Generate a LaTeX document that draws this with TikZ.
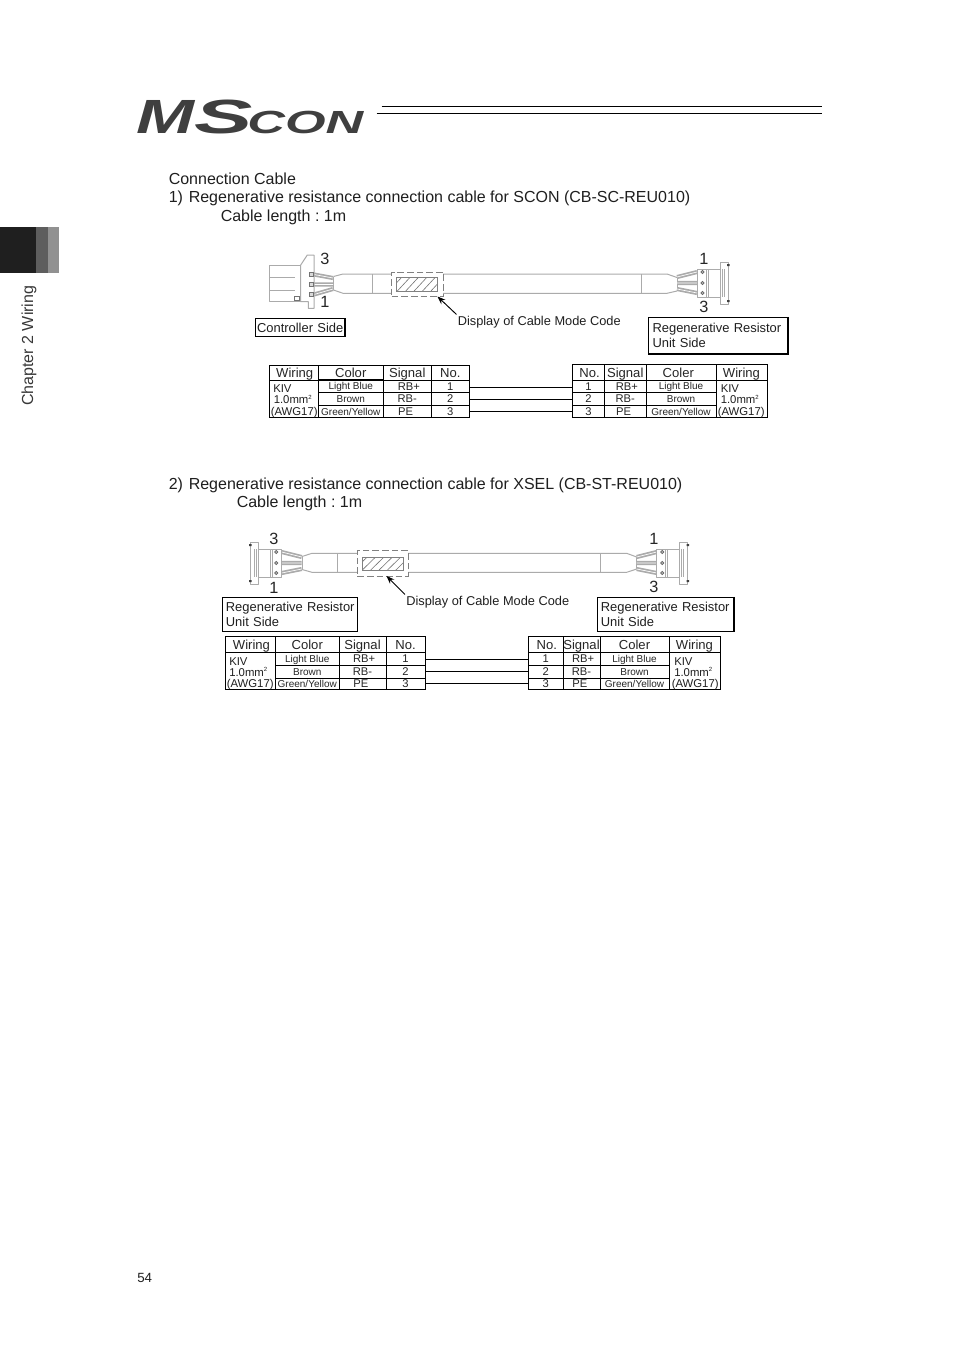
\documentclass[tikz,border=0pt]{standalone}
\usepackage{fontspec}
\setmainfont{Liberation Sans}
\usetikzlibrary{arrows.meta}
\definecolor{cablec}{HTML}{ABABAB}
\definecolor{logoc}{HTML}{3F3F3F}
\newcommand\fs[1]{\fontsize{#1pt}{#1pt}\selectfont}
\frenchspacing
\tikzset{
  x=0.75pt,y=-0.75pt,
  txt/.style={anchor=base west,inner sep=0pt,text=black!88},
  body/.style={txt,font=\fs{12}\frenchspacing},
  pinno/.style={inner sep=0pt,font=\fs{12.2},text=black!85},
  small/.style={txt,font=\fs{9.6}},
  cell/.style={draw=black,line width=0.6pt,inner sep=0pt,text=black!85,text height=0.72em,text depth=0pt},
  hdr/.style={font=\fs{9.8}},
  sig/.style={font=\fs{8.4},text depth=1.2pt},
  col/.style={font=\fs{7.5},text depth=1.5pt},
  colt/.style={font=\fs{7.5},text depth=2.2pt},
  wir/.style={txt,font=\fs{8.5}},
  lab/.style={draw=black,line width=0.8pt,align=left,inner ysep=0pt,font=\fontsize{9.7pt}{11.25pt}\selectfont,text=black!88},
  wireline/.style={draw=black,line width=0.6pt},
  cab/.style={draw=cablec,line width=0.75pt,line join=round},
  strand/.style={draw=cablec,line width=1.3pt,double=white,double distance=0.5pt},
  modeb/.style={draw=black!50,line width=0.6pt,dash pattern=on 5pt off 2.2pt},
  pics/rconn/.style={code={
    \draw[strand] (0,-11) -- (-20,-6) (0,0) -- (-20,0) (0,10) -- (-20,6);
    \draw[cab,fill=white] (0,-14) rectangle (11,14);
    \draw[cab,fill=white] (11,-14) rectangle (23,14);
    \draw[cab] (9,-14) -- (9,14);
    \draw[cab,fill=white] (23,-21) rectangle (31,21);
    \draw[cab] (25,-14) -- (25,14) (27,-14) -- (27,14);
    \foreach \yy in {-11,0,10}{\draw[black!60,line width=0.5pt,fill=black!25] (5.5,\yy) circle (1.6);}
    \fill[black!75] (30,-19) rectangle (32.5,-17) (30,17) rectangle (32.5,19);
  }},
}
\newcommand\tcell[7]{%
  \pgfmathsetlengthmacro\cw{(#4-#2)*0.75}%
  \pgfmathsetlengthmacro\ch{(#5-#3)*0.75}%
  \node[cell,minimum width=\cw,minimum height=\ch,#6] (#1) at ({(#2+#4)/2},{(#3+#5)/2}) {#7};}
% name, inner margin, x1, y1, x2, y2, text
\newcommand\boxlab[7]{%
  \pgfmathsetlengthmacro\cw{(#5-#3)*0.75}%
  \pgfmathsetlengthmacro\ch{(#6-#4)*0.75}%
  \node[lab,inner xsep=#2,minimum width=\cw,minimum height=\ch,text width=\cw-2*#2] (#1) at ({(#3+#5)/2},{(#4+#6)/2}) {#7};}
\newcommand\setcols[5]{\def\xa{#1}\def\xb{#2}\def\xc{#3}\def\xd{#4}\def\xe{#5}}
\newcommand\setrows[5]{\def\ya{#1}\def\yb{#2}\def\yc{#3}\def\yd{#4}\def\ye{#5}}
\newcommand\sq{\raisebox{0.75ex}{\fs{4.5}2}}
\newcommand\wirtxt[4]{%
  \node[wir] (#1k) at (#2,\yb+12.5) {KIV};
  \node[wir] (#1m) at (#3,\yb+23.5) {1.0mm\sq};
  \node[wir] (#1a) at (#4,\yb+35) {(AWG17)};}
\newcommand\leftab[1]{%
  \tcell{#1hw}{\xa}{\ya}{\xb}{\yb}{hdr}{\hspace*{1.5pt}Wiring}
  \tcell{#1hc}{\xb}{\ya}{\xc}{\yb}{hdr}{Color}
  \tcell{#1hs}{\xc}{\ya}{\xd}{\yb}{hdr}{Signal}
  \tcell{#1hn}{\xd}{\ya}{\xe}{\yb}{hdr}{No.}
  \tcell{#1w}{\xa}{\yb}{\xb}{\ye}{}{}
  \tcell{#1ca}{\xb}{\yb}{\xc}{\yc}{colt}{Light Blue}
  \tcell{#1cb}{\xb}{\yc}{\xc}{\yd}{col}{Brown}
  \tcell{#1cc}{\xb}{\yd}{\xc}{\ye}{col}{Green/Yellow}
  \tcell{#1sa}{\xc}{\yb}{\xd}{\yc}{sig}{\hspace*{2.5pt}RB+}
  \tcell{#1sb}{\xc}{\yc}{\xd}{\yd}{sig}{RB-}
  \tcell{#1sc}{\xc}{\yd}{\xd}{\ye}{sig}{PE\hspace*{2.5pt}}
  \tcell{#1na}{\xd}{\yb}{\xe}{\yc}{sig}{1}
  \tcell{#1nb}{\xd}{\yc}{\xe}{\yd}{sig}{2}
  \tcell{#1nc}{\xd}{\yd}{\xe}{\ye}{sig}{3}}
\newcommand\rightab[2]{%
  \tcell{#1hn}{\xa}{\ya}{\xb}{\yb}{hdr}{\hspace*{1.5pt}No.}
  \tcell{#1hs}{\xb}{\ya}{\xc}{\yb}{hdr}{Signal}
  \tcell{#1hc}{\xc}{\ya}{\xd}{\yb}{hdr}{Coler\hspace*{#2}}
  \tcell{#1hw}{\xd}{\ya}{\xe}{\yb}{hdr}{Wiring}
  \tcell{#1na}{\xa}{\yb}{\xb}{\yc}{sig}{1}
  \tcell{#1nb}{\xa}{\yc}{\xb}{\yd}{sig}{2}
  \tcell{#1nc}{\xa}{\yd}{\xb}{\ye}{sig}{3}
  \tcell{#1sa}{\xb}{\yb}{\xc}{\yc}{sig}{\hspace*{2.5pt}RB+}
  \tcell{#1sb}{\xb}{\yc}{\xc}{\yd}{sig}{RB-}
  \tcell{#1sc}{\xb}{\yd}{\xc}{\ye}{sig}{PE\hspace*{2.5pt}}
  \tcell{#1ca}{\xc}{\yb}{\xd}{\yc}{colt}{Light Blue}
  \tcell{#1cb}{\xc}{\yc}{\xd}{\yd}{col}{Brown}
  \tcell{#1cc}{\xc}{\yd}{\xd}{\ye}{col}{Green/Yellow}
  \tcell{#1w}{\xd}{\yb}{\xe}{\ye}{}{}}
\newcommand\modebox[9]{%
  \pgfmathsetlengthmacro\cw{(#4-#2)*0.75}%
  \pgfmathsetlengthmacro\ch{(#5-#3)*0.75}%
  \node[modeb,draw,fill=white,minimum width=\cw,minimum height=\ch,inner sep=0pt] (#1) at ({(#2+#4)/2},{(#3+#5)/2}) {};
  \begin{scope}
    \clip (#6,#7) rectangle (#8,#9);
    \foreach \k in {-1,...,5}{\draw[black!55,line width=0.45pt] ({#6+\k*8.4},#9) -- ({#6+\k*8.4+13},#7);}
  \end{scope}
  \draw[black!50,line width=0.6pt] (#6,#7) rectangle (#8,#9);}
\begin{document}
\begin{tikzpicture}
\useasboundingbox (0,0) rectangle (954,1350);
\fill[white] (0,0) rectangle (954,1350);
% side tab
\fill[black!88] (0,227) rectangle (36,273);
\fill[black!63] (36,227) rectangle (48,273);
\fill[black!43] (48,227) rectangle (59,273);
\node[rotate=90,anchor=base west,inner sep=0pt,font=\fs{12},text=black!78] (chap) at (33,406) {Chapter 2 Wiring};
% logo
\node[transform shape,xscale=1.45,anchor=base west,inner sep=0pt,text=logoc,font=\bfseries\itshape\fs{36}] (logoM) at (136,133) {M};
\node[transform shape,xscale=1.82,anchor=base west,inner sep=0pt,text=logoc,font=\bfseries\itshape\fs{36}] (logoS) at (194,133) {S};
\node[transform shape,xscale=1.63,anchor=base west,inner sep=0pt,text=logoc,font=\itshape\bfseries\fs{24}] (logoC) at (247,133) {CON};
\draw[black,line width=0.6pt] (381.5,106) coordinate (ra) -- (822,106) coordinate (rb);
\draw[black,line width=0.6pt] (376.5,113.5) coordinate (rc) -- (822,113.5) coordinate (rd);
% headings
\node[body] (t0) at (168.5,184) {Connection Cable};
\node[body] (t1a) at (168.5,202) {1)};
\node[body] (t1) at (188.5,202) {Regenerative resistance connection cable for SCON (CB-SC-REU010)};
\node[body] (t1b) at (220.5,221) {Cable length : 1m};
\node[body] (t2a) at (168.5,489) {2)};
\node[body] (t2) at (188.5,489) {Regenerative resistance connection cable for XSEL (CB-ST-REU010)};
\node[body] (t2b) at (236.5,507) {Cable length : 1m};
\node[txt,font=\fs{10}] (page) at (137,1282) {54};
% ---- cable 1
\draw[cab] (333.5,276.5) -- (343,274) -- (372,274) -- (641,274) -- (667,274) -- (677,277.5);
\draw[cab] (333.5,290) -- (343,293.3) -- (372,293.3) -- (641,293.3) -- (667,293.3) -- (677,291);
\draw[cab] (372,274) -- (372,293.3) (641,274) -- (641,293.3);
\draw[cab] (333.5,276.5) -- (333.5,290) (677,277.5) -- (677,291);
\modebox{mb1}{391.7}{272.3}{443.3}{296.7}{396.7}{277.7}{437.7}{291.7}
\draw[strand] (314,274.5) -- (333,278) (314,284.5) -- (333,284.5) (314,294.5) -- (333,289);
\draw[cab,fill=white] (269,265) rectangle (300.7,301.7);
\draw[cab] (269,277) -- (295,277) (269,290) -- (295,290);
\draw[cab,fill=white] (300.7,265) -- (307.3,255) -- (314,255) -- (314,308.3) -- (308.3,308.3) -- (308.3,301.7) -- (300.7,301.7) -- cycle;
\foreach \yy in {274.5,284.5,294.5}{\draw[black!55,line width=0.5pt,fill=black!15] (309,\yy-2) rectangle (313.5,\yy+2);}
\draw[black!55,line width=0.5pt] (294.5,296) rectangle (299,300.5);
\path (697,283) pic {rconn};
\node[pinno] (p13) at (325,258.5) {3};
\node[pinno] (p11) at (325,302) {1};
\node[pinno] (p21) at (704,259) {1};
\node[pinno] (p23) at (704,307) {3};
\boxlab{lc1}{1pt}{255.7}{318.3}{345}{336.7}{\mbox{Controller Side}}
\boxlab{lr1}{3.2pt}{648.3}{317.3}{788}{353.5}{\mbox{Regenerative Resistor}\\Unit Side}
\draw[black,line width=1.4pt] (lr1.north east) -- (lr1.south east) -- (lr1.south west);
\node[small] (d1) at (457.5,325) {Display of Cable Mode Code};
\coordinate (tip1) at (437.5,296.5);
\draw[black,line width=0.7pt,-{Stealth[length=6pt,width=4.5pt]}] (d1.north west) ++(-1,-1) -- (tip1);
% tables 1
\setcols{269.5}{318}{383.5}{431}{469.5}\setrows{365}{380}{392}{405}{417.5}
\leftab{a}\wirtxt{a}{273}{273.5}{270.5}
\setcols{572.5}{604.5}{646}{716}{767}\setrows{364.5}{380}{392.5}{405}{417.5}
\rightab{b}{4pt}\wirtxt{b}{720.5}{720.5}{717.5}
\coordinate (w1a) at (469.5,387.5);\coordinate (w1b) at (469.5,399);\coordinate (w1c) at (469.5,411);
\draw[wireline] (w1a) -- (w1a -| bna.west);
\draw[wireline] (w1b) -- (w1b -| bnb.west);
\draw[wireline] (w1c) -- (w1c -| bnc.west);
% ---- cable 2
\draw[cab] (302,556.5) -- (312,553.3) -- (337.3,553.3) -- (600.7,553.3) -- (626.7,553.3) -- (636.7,557);
\draw[cab] (302,569.5) -- (312,572.3) -- (337.3,572.3) -- (600.7,572.3) -- (626.7,572.3) -- (636.7,569);
\draw[cab] (337.3,553.3) -- (337.3,572.3) (600.7,553.3) -- (600.7,572.3);
\draw[cab] (302,556.5) -- (302,569.5) (636.7,557) -- (636.7,569);
\modebox{mb2}{357.3}{550.7}{408.3}{576}{362.3}{557.3}{403.3}{570}
\path (281.7,563) pic[xscale=-1] {rconn};
\path (656.7,563) pic {rconn};
\node[pinno] (q13) at (274,538.5) {3};
\node[pinno] (q11) at (274,588) {1};
\node[pinno] (q21) at (654,539) {1};
\node[pinno] (q23) at (654,587) {3};
\boxlab{lr2}{2.7pt}{222.3}{597.5}{357.7}{631.7}{\mbox{Regenerative Resistor}\\Unit Side}
\boxlab{lr3}{2.7pt}{597.3}{597.5}{733.3}{631.7}{\mbox{Regenerative Resistor}\\Unit Side}
\draw[black,line width=1.2pt] (lr3.north east) -- (lr3.south east);
\node[small] (d2) at (406,605) {Display of Cable Mode Code};
\coordinate (tip2) at (386.5,576);
\draw[black,line width=0.7pt,-{Stealth[length=6pt,width=4.5pt]}] (d2.north west) ++(-1,-1) -- (tip2);
% tables 2
\setcols{225.5}{275.5}{339}{386}{425}\setrows{636}{652.5}{665}{678}{689.5}
\leftab{c}\wirtxt{c}{229}{229}{226.5}
\setcols{528.5}{563}{600}{669}{720}\setrows{636}{652.5}{665}{678}{689.5}
\rightab{d}{0pt}\wirtxt{d}{674}{674}{671.5}
\coordinate (w2a) at (425,659);\coordinate (w2b) at (425,671);\coordinate (w2c) at (425,683);
\draw[wireline] (w2a) -- (w2a -| dna.west);
\draw[wireline] (w2b) -- (w2b -| dnb.west);
\draw[wireline] (w2c) -- (w2c -| dnc.west);
\end{tikzpicture}
\end{document}
